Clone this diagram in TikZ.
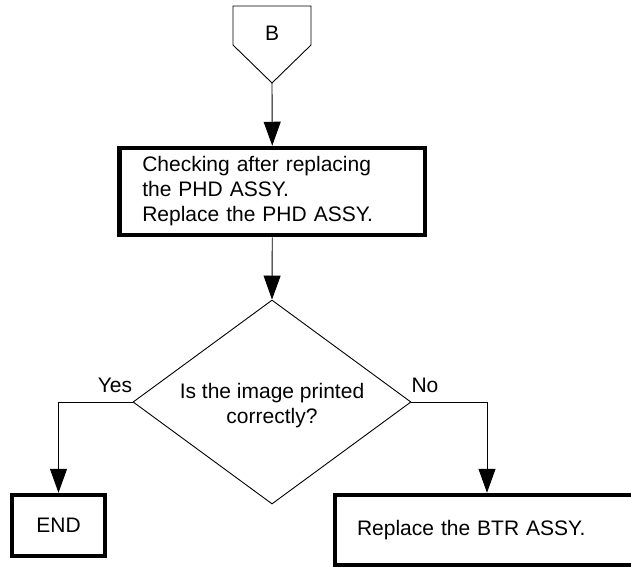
\documentclass[tikz,border=0pt]{standalone}
\usepackage{fontspec}
\setmainfont{Liberation Sans}
\usetikzlibrary{arrows.meta,shapes.geometric}
\begin{document}
\begin{tikzpicture}[x=1pt,y=-1pt,
  thinline/.style={line width=0.9pt, draw=black},
  arr/.style={thinline, -{Triangle[length=24pt,width=17pt]}},
  thickbox/.style={draw=black, line width=4.5pt, rectangle, inner sep=0pt},
  txt/.style={font=\fontsize{21}{25}\selectfont}]
\useasboundingbox (0,0) rectangle (631,566);
\clip (0,0) rectangle (631,566);
% off-page connector B
\draw[thinline] (233,6) -- (311,6) -- (311,45) -- (272,83) -- (233,45) -- cycle;
\coordinate (bapex) at (272,83);
\node[txt] (b) at (272,33) {B};
% first box
\node[thickbox, txt, minimum width=305.5pt, minimum height=87pt, text width=260pt,
      inner xsep=22.75pt, align=left] (chk) at (272.25,191.5)
  {Checking after replacing\\the PHD ASSY.\\Replace the PHD ASSY.};
% decision
\node[thinline, diamond, minimum width=278pt, minimum height=204pt, inner sep=0pt] (q) at (272,402) {};
\node[txt, align=center] (qtext) at (272,406) {Is the image printed\\correctly?};
% end box
\node[thickbox, txt, minimum width=93pt, minimum height=61pt] (endn) at (58.5,525.5) {END};
% BTR box
\node[thickbox, txt, minimum width=320pt, minimum height=70pt, text width=276pt,
      inner xsep=22pt, align=left] (btr) at (495,530) {Replace the BTR ASSY.};
% labels
\node[txt, anchor=base] (yes) at (115,392) {Yes};
\node[txt, anchor=base] (no) at (425,392) {No};
% connectors
\draw[arr] (bapex) -- (chk.north);
\draw[arr] (chk.south) -- (q.north);
\draw[arr] (q.west) -| (endn.north);
\draw[arr] (q.east) -| ([xshift=-8pt]btr.north);
\end{tikzpicture}
\end{document}
